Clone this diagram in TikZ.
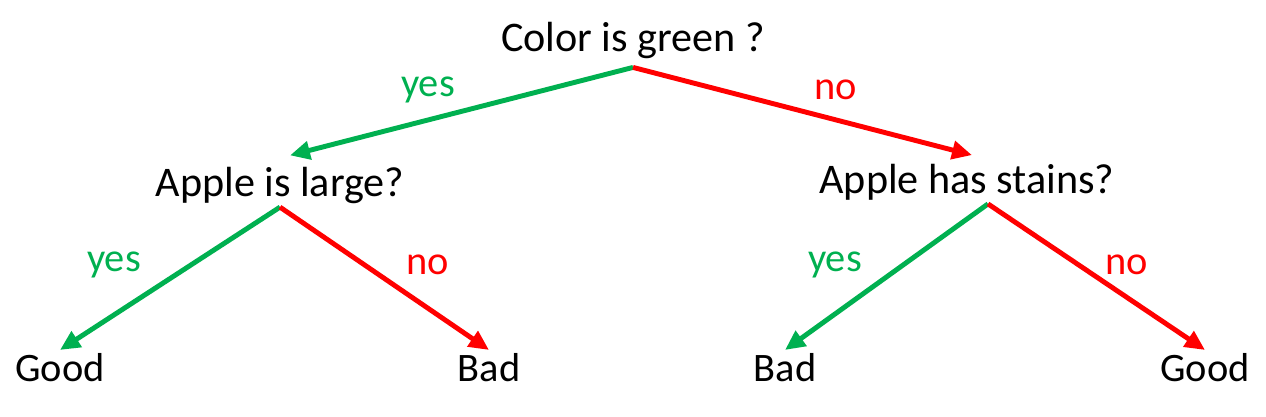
\documentclass[tikz,border=0pt]{standalone}
\usepackage{fontspec}
\setmainfont{Carlito}
\usetikzlibrary{positioning, arrows.meta}
\definecolor{yesgreen}{HTML}{00B050}
\definecolor{nored}{HTML}{FF0000}
\tikzset{
  question/.style={
    inner sep=2pt,
    font=\fontsize{24}{28}\selectfont
  },
  leaf/.style={
    inner sep=2pt,
    font=\fontsize{23}{27}\selectfont
  },
  yeslabel/.style={
    text=yesgreen,
    font=\fontsize{23}{27}\selectfont
  },
  nolabel/.style={
    text=nored,
    font=\fontsize{23}{27}\selectfont
  },
  yesarrow/.style={
    draw=yesgreen,
    line width=2.8pt,
    -{Triangle[length=0.4cm,width=0.36cm]}
  },
  noarrow/.style={
    draw=nored,
    line width=2.8pt,
    -{Triangle[length=0.4cm,width=0.36cm]}
  }
}

\begin{document}
\begin{tikzpicture}[x=0.02cm, y=-0.02cm]
    \useasboundingbox (0,0) rectangle (1266,416);

    \node[question, inner sep=5pt] (root) at (633,40) {Color is green ?};
    \node[question] (large) at (280,185) {Apple is large?};
    \node[question] (stains) at (967,182) {Apple has stains?};

    \node[leaf] (good1) at (60,368) {Good};
    \node[leaf] (bad1) at (489,368) {Bad};
    \node[leaf] (bad2) at (785,368) {Bad};
    \node[leaf] (good2) at (1205,368) {Good};

    \draw[yesarrow] (root.south) -- ([xshift=0.2cm, yshift=0.15cm]large.north);
    \draw[noarrow] (root.south) -- ([xshift=0.1cm, yshift=0.1cm]stains.north);
    \draw[yesarrow] (large.south) -- (good1.north);
    \draw[noarrow] (large.south) -- (bad1.north);
    \draw[yesarrow] ([xshift=0.42cm]stains.south) -- (bad2.north);
    \draw[noarrow] ([xshift=0.42cm]stains.south) -- (good2.north);

    \node[yeslabel] (yes1) at (428,90) {yes};
    \node[nolabel] (no1) at (836,90) {no};
    \node[yeslabel] (yes2) at (114,265) {yes};
    \node[nolabel] (no2) at (428,265) {no};
    \node[yeslabel] (yes3) at (835,265) {yes};
    \node[nolabel] (no3) at (1127,265) {no};
\end{tikzpicture}
\end{document}
